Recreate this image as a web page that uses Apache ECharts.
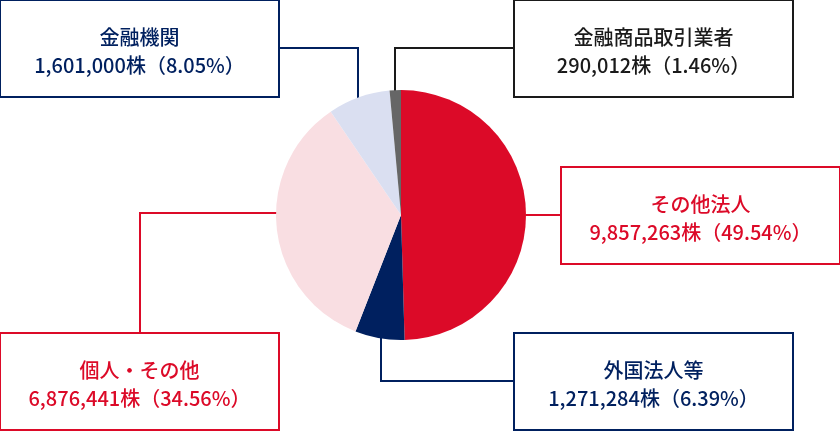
<!DOCTYPE html>
<html>
<head>
<meta charset="utf-8">
<script src="https://cdn.jsdelivr.net/npm/echarts@6/dist/echarts.min.js"></script>
<style>
html,body{margin:0;padding:0;background:#fff;}
#main{width:840px;height:431px;}
</style>
</head>
<body>
<div id="main"></div>
<script>
const categories = ['その他法人', '外国法人等', '個人・その他', '金融機関', '金融商品取引業者'];
const shares = [9857263, 1271284, 6876441, 1601000, 290012];
const percents = ['49.54', '6.39', '34.56', '8.05', '1.46'];
const sliceColors = ['#DC0A28', '#00205F', '#F9DEE2', '#DADFF1', '#666666'];
const textColors = ['#DC0A28', '#00205F', '#DC0A28', '#00205F', '#1a1a1a'];

// label box placement (layout only)
const boxPos = [
  {x: 700.5, y: 168, line: [[526, 215], [544, 215], [562, 215]]},
  {x: 653.5, y: 334, line: [[381, 336], [381, 381], [515, 381]]},
  {x: 139.5, y: 334, line: [[283, 213], [140, 213], [140, 334]]},
  {x: 139.5, y: 1, line: [[358, 110], [358, 48], [278, 48]]},
  {x: 653.5, y: 1, line: [[395, 103], [395, 48], [515, 48]]}
];

function fmt(n) { return n.toString().replace(/\B(?=(\d{3})+(?!\d))/g, ','); }

const data = categories.map((c, i) => ({
  name: c,
  value: shares[i],
  itemStyle: {color: sliceColors[i]},
  label: {color: textColors[i], borderColor: textColors[i]},
  labelLine: {lineStyle: {color: textColors[i]}}
}));

const chart = echarts.init(document.getElementById('main'), null, {renderer: 'canvas'});
chart.setOption({
  animation: false,
  series: [{
    type: 'pie',
    center: [401, 215],
    radius: [0, 125],
    startAngle: 90,
    clockwise: true,
    avoidLabelOverlap: false,
    itemStyle: {borderWidth: 0},
    emphasis: {disabled: true},
    data: data,
    label: {
      show: true,
      position: 'outside',
      formatter: p => p.name + '\n' + fmt(p.value) + '株（' + percents[p.dataIndex] + '%）',
      fontFamily: 'Noto Sans CJK JP',
      fontSize: 20,
      fontWeight: 500,
      lineHeight: 28,
      backgroundColor: '#fff',
      borderWidth: 2,
      width: 277,
      padding: [22, 0, 17, 0],
      align: 'center'
    },
    labelLine: {show: true, smooth: false, lineStyle: {width: 2}},
    labelLayout: function (params) {
      const b = boxPos[params.dataIndex];
      return {x: b.x, y: b.y, align: 'center', verticalAlign: 'top', labelLinePoints: b.line};
    }
  }]
});
</script>
</body>
</html>
